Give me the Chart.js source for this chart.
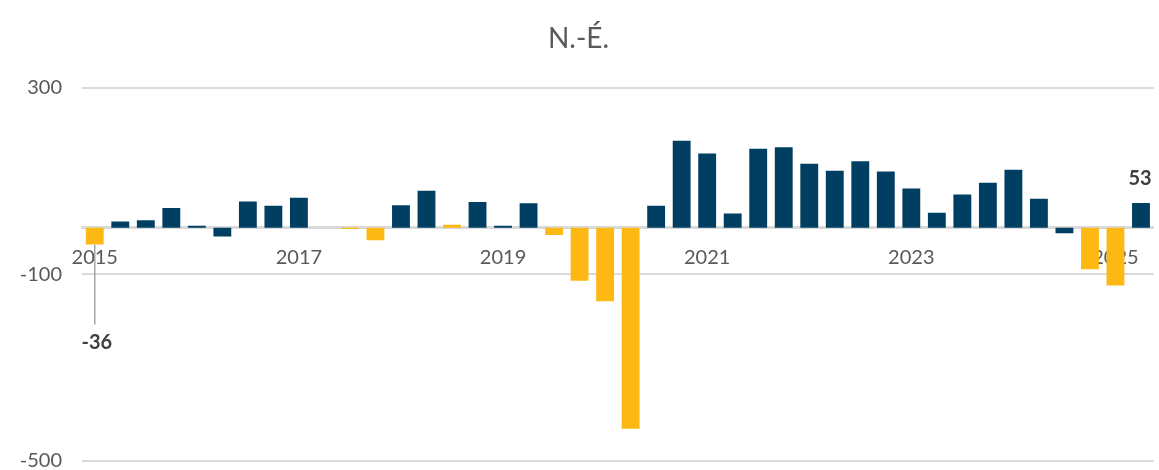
<!DOCTYPE html>
<html>
<head>
<meta charset="utf-8">
<script src="https://cdn.jsdelivr.net/npm/chart.js@4"></script>
<style>
  html, body { margin: 0; padding: 0; background: #fff; }
  #wrap { position: relative; width: 1159px; height: 470px; }
</style>
</head>
<body>
<div id="wrap"><canvas id="grafico"></canvas></div>
<script>
// trimestres 2015 T1 .. 2025 T2
const trimestres = [
  '2015 T1','2015 T2','2015 T3','2015 T4','2016 T1','2016 T2','2016 T3','2016 T4',
  '2017 T1','2017 T2','2017 T3','2017 T4','2018 T1','2018 T2','2018 T3','2018 T4',
  '2019 T1','2019 T2','2019 T3','2019 T4','2020 T1','2020 T2','2020 T3','2020 T4',
  '2021 T1','2021 T2','2021 T3','2021 T4','2022 T1','2022 T2','2022 T3','2022 T4',
  '2023 T1','2023 T2','2023 T3','2023 T4','2024 T1','2024 T2','2024 T3','2024 T4',
  '2025 T1','2025 T2'
];
const valeurs = [
  -36, 13, 16, 42, 4, -19, 56, 47,
  64, 0, -3, -27, 48, 79, 6, 55,
  4, 52, -16, -114, -158, -431, 47, 186,
  159, 30, 169, 172, 137, 122, 142, 120,
  84, 32, 71, 96, 124, 62, -12, -89,
  -124, 53
];
// barres en jaune (indices)
const barresJaunes = [0, 10, 11, 14, 18, 19, 20, 21, 39, 40];
const etiquettesAnnees = ['2015', '2017', '2019', '2021', '2023', '2025'];
const yTicks = [-500, -100, 300];

const bleu = '#003f62';
const jaune = '#fdb813';
let couleurs = valeurs.map((v, i) => barresJaunes.includes(i) ? jaune : bleu);

// etiquettes premiere et derniere barre
const etiquettesPlugin = {
  id: 'etiquettes',
  afterDatasetsDraw(chart) {
    const ctx = chart.ctx;
    const meta = chart.getDatasetMeta(0);
    const premier = meta.data[0];
    const dernier = meta.data[meta.data.length - 1];
    ctx.save();
    ctx.strokeStyle = '#a6a6a6';
    ctx.lineWidth = 1.5;
    ctx.beginPath();
    ctx.moveTo(premier.x, premier.y);
    ctx.lineTo(premier.x, premier.y + 80);
    ctx.stroke();
    ctx.fillStyle = '#404040';
    ctx.font = 'bold 20px Lato';
    ctx.textAlign = 'center';
    ctx.textBaseline = 'middle';
    ctx.fillText(valeurs[0], premier.x + 2, premier.y + 98);
    ctx.fillText(valeurs[valeurs.length - 1], dernier.x - 1, dernier.y - 24);
    ctx.restore();
  }
};

const ctxBar = document.getElementById('grafico');
new Chart(ctxBar, {
  type: 'bar',
  data: {
    labels: trimestres,
    datasets: [{
      data: valeurs,
      backgroundColor: couleurs,
      categoryPercentage: 1,
      barPercentage: 0.7,
    }]
  },
  options: {
    responsive: true,
    maintainAspectRatio: false,
    animation: false,
    layout: { padding: { left: 0, right: 2, top: 0, bottom: 0 } },
    plugins: {
      legend: { display: false },
      tooltip: { enabled: false },
      title: {
        display: true,
        text: 'N.-É.',
        color: '#595959',
        font: { family: 'Lato', size: 28, weight: 'normal' },
        padding: { top: 22, bottom: 32 }
      }
    },
    scales: {
      x: {
        position: { y: 0 },
        z: 1,
        afterFit: function (s) { s.height = 0; },
        grid: { display: false, drawTicks: false },
        border: { display: true, color: '#d9d9d9', width: 3 },
        ticks: {
          autoSkip: false,
          maxRotation: 0,
          padding: 18,
          color: '#595959',
          font: { family: 'Lato', size: 20 },
          callback: function (val, i) {
            const an = trimestres[i].slice(0, 4);
            return (trimestres[i].endsWith('T1') && etiquettesAnnees.includes(an)) ? an : '';
          }
        }
      },
      y: {
        min: -500,
        max: 300,
        afterFit: function (s) {
          s.width = 82;
          s.paddingTop = 0;
          s.paddingBottom = 9;
        },
        afterBuildTicks: function (s) { s.ticks = yTicks.map(v => ({ value: v })); },
        grid: { color: '#d9d9d9', lineWidth: 2, drawTicks: false },
        border: { display: false },
        ticks: {
          padding: 20,
          color: '#595959',
          font: { family: 'Lato', size: 20 }
        }
      }
    }
  },
  plugins: [etiquettesPlugin]
});
</script>
</body>
</html>
